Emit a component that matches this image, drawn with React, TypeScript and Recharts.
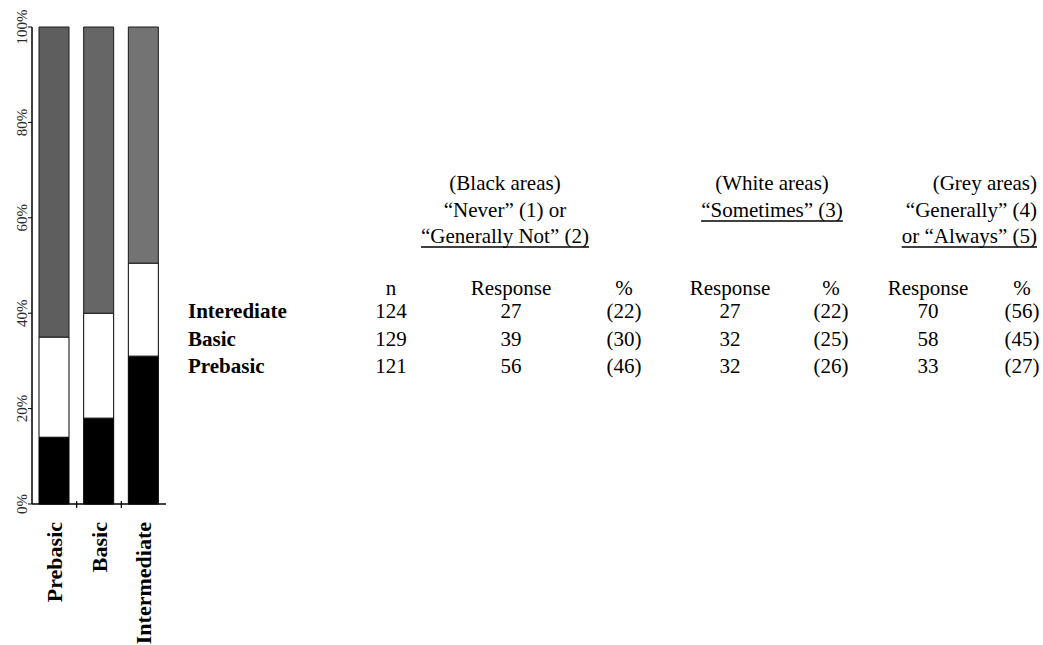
import React, { useLayoutEffect, useRef, useState } from "react";
import { BarChart, Bar, XAxis, YAxis, Cell } from "recharts";

// bar shares (percent of each group)
const categories = ["Prebasic", "Basic", "Intermediate"];
const blackShare = [14, 18, 31];
const whiteShare = [21, 22, 19.5];
const greyShare = [65, 60, 49.5];
const yTicks = [0, 20, 40, 60, 80, 100];

// table to the right of the chart
const rowLabels = ["Interediate", "Basic", "Prebasic"];
const nValues = [124, 129, 121];
const blackResponse = [27, 39, 56];
const blackPct = [22, 30, 46];
const whiteResponse = [27, 32, 32];
const whitePct = [22, 25, 26];
const greyResponse = [70, 58, 33];
const greyPct = [56, 45, 27];
const columnHeads = ["n", "Response", "%", "Response", "%", "Response", "%"];
const blackTitle = ["(Black areas)", "\u201cNever\u201d (1) or", "\u201cGenerally Not\u201d (2)"];
const whiteTitle = ["(White areas)", "\u201cSometimes\u201d (3)"];
const greyTitle = ["(Grey areas)", "\u201cGenerally\u201d (4)", "or \u201cAlways\u201d (5)"];

const data = categories.map((name, i) => ({
  name,
  black: blackShare[i],
  white: whiteShare[i],
  grey: greyShare[i],
}));

const greyShades = ["#5e5e5e", "#666666", "#737373"];
const serif = "'Liberation Serif', 'Times New Roman', serif";

const CHART_H = 645;
const TOP = 27;
const X_AXIS_H = 141;
const PLOT_BOTTOM = CHART_H - X_AXIS_H;

const colX = [391, 511, 624, 730, 831, 928, 1022];
const titleBase = [190, 217, 243];
const headBase = 295;
const rowBase = [318, 346, 373];

function YTick(props: any) {
  const { y, payload } = props;
  const x = 22;
  return (
    <text
      x={x}
      y={y}
      transform={`rotate(-90, ${x}, ${y})`}
      textAnchor="middle"
      dominantBaseline="central"
      fontFamily={serif}
      fontSize={15}
      fill="#2a2a2a"
    >
      {payload.value}%
    </text>
  );
}

function XTick(props: any) {
  const { x, payload, index, width } = props;
  const y = 522;
  const half = width / categories.length / 2;
  return (
    <g>
      {index < categories.length - 1 && (
        <line x1={x + half} x2={x + half} y1={PLOT_BOTTOM - 3} y2={PLOT_BOTTOM + 4} stroke="#000" strokeWidth={1.2} />
      )}
      <text
        x={x}
        y={y}
        transform={`rotate(-90, ${x}, ${y})`}
        textAnchor="end"
        dominantBaseline="central"
        fontFamily={serif}
        fontWeight="bold"
        fontSize={22}
        fill="#000"
      >
        {payload.value}
      </text>
    </g>
  );
}

// text with a solid underline drawn beneath it
function UText({ x, y, anchor, children }: { x: number; y: number; anchor: "middle" | "end"; children: string }) {
  const ref = useRef<SVGTextElement>(null);
  const [box, setBox] = useState<{ x: number; w: number } | null>(null);
  useLayoutEffect(() => {
    if (ref.current) {
      const b = ref.current.getBBox();
      setBox({ x: b.x, w: b.width });
    }
  }, [children]);
  return (
    <g>
      <text ref={ref} x={x} y={y} textAnchor={anchor}>
        {children}
      </text>
      {box && <line x1={box.x} x2={box.x + box.w} y1={y + 4} y2={y + 4} stroke="#000" strokeWidth={1.6} />}
    </g>
  );
}

function Table() {
  const cols = [nValues, blackResponse, blackPct, whiteResponse, whitePct, greyResponse, greyPct];
  return (
    <svg
      width={1043}
      height={645}
      style={{ position: "absolute", left: 0, top: 0 }}
      fontFamily={serif}
      fontSize={21}
    >
      {blackTitle.map((t, i) =>
        i === 2 ? (
          <UText key={"b" + i} x={505} y={titleBase[i]} anchor="middle">
            {t}
          </UText>
        ) : (
          <text key={"b" + i} x={505} y={titleBase[i]} textAnchor="middle">
            {t}
          </text>
        )
      )}
      {whiteTitle.map((t, i) =>
        i === 1 ? (
          <UText key={"w" + i} x={772} y={titleBase[i]} anchor="middle">
            {t}
          </UText>
        ) : (
          <text key={"w" + i} x={772} y={titleBase[i]} textAnchor="middle">
            {t}
          </text>
        )
      )}
      {greyTitle.map((t, i) =>
        i === 2 ? (
          <UText key={"g" + i} x={1037} y={titleBase[i]} anchor="end">
            {t}
          </UText>
        ) : (
          <text key={"g" + i} x={1037} y={titleBase[i]} textAnchor="end">
            {t}
          </text>
        )
      )}
      {columnHeads.map((h, i) => (
        <text key={"h" + i} x={colX[i]} y={headBase} textAnchor="middle">
          {h}
        </text>
      ))}
      {rowLabels.map((r, i) => (
        <text key={"r" + i} x={188} y={rowBase[i]} fontWeight="bold">
          {r}
        </text>
      ))}
      {cols.map((col, c) =>
        col.map((v, i) => (
          <text key={`c${c}-${i}`} x={colX[c]} y={rowBase[i]} textAnchor="middle">
            {c === 2 || c === 4 || c === 6 ? `(${v})` : v}
          </text>
        ))
      )}
    </svg>
  );
}

export default function App() {
  return (
    <div style={{ position: "absolute", left: 0, top: 0, width: 1043, height: 645, background: "#fff", overflow: "hidden" }}>
      <div style={{ position: "absolute", left: 0, top: 0 }}>
        <BarChart width={200} height={CHART_H} data={data} margin={{ top: TOP, right: 34, left: 0, bottom: 0 }}>
          <XAxis
            dataKey="name"
            height={X_AXIS_H}
            tick={<XTick />}
            tickLine={false}
            interval={0}
            axisLine={{ stroke: "#000", strokeWidth: 1.5 }}
          />
          <YAxis
            width={32}
            domain={[0, 100]}
            ticks={yTicks}
            tick={<YTick />}
            tickSize={4}
            tickLine={{ stroke: "#000" }}
            axisLine={{ stroke: "#000", strokeWidth: 1.5 }}
          />
          <Bar dataKey="black" stackId="a" fill="#000" stroke="#000" barSize={30} isAnimationActive={false} />
          <Bar dataKey="white" stackId="a" fill="#fff" stroke="#000" barSize={30} isAnimationActive={false} />
          <Bar dataKey="grey" stackId="a" stroke="#1a1a1a" barSize={30} isAnimationActive={false}>
            {data.map((d, i) => (
              <Cell key={d.name} fill={greyShades[i]} />
            ))}
          </Bar>
        </BarChart>
      </div>
      <Table />
    </div>
  );
}
